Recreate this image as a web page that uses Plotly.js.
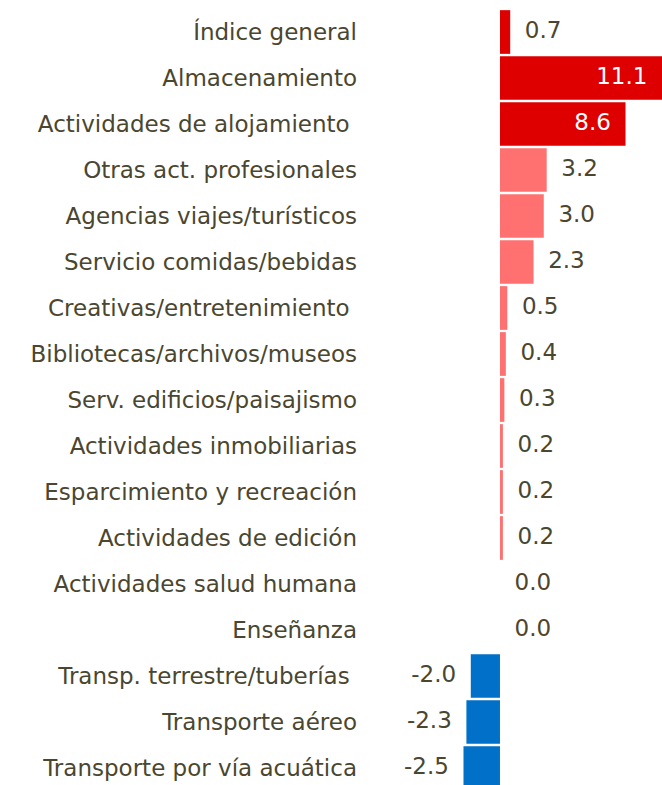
<!DOCTYPE html>
<html>
<head>
<meta charset="utf-8">
<script src="https://cdn.plot.ly/plotly-3.0.1.min.js"></script>
<style>
html,body{margin:0;padding:0;overflow:hidden;background:#fff;}
#chart{width:662px;height:791px;}
</style>
</head>
<body>
<div id="chart"></div>
<script>
const categories = [
  "Índice general",
  "Almacenamiento",
  "Actividades de alojamiento\u00a0",
  "Otras act. profesionales",
  "Agencias viajes/turísticos",
  "Servicio comidas/bebidas",
  "Creativas/entretenimiento\u00a0",
  "Bibliotecas/archivos/museos",
  "Serv. edificios/paisajismo",
  "Actividades inmobiliarias",
  "Esparcimiento y recreación",
  "Actividades de edición",
  "Actividades salud humana",
  "Enseñanza",
  "Transp. terrestre/tuberías\u00a0",
  "Transporte aéreo",
  "Transporte por vía acuática"
];
const values = [0.7, 11.1, 8.6, 3.2, 3.0, 2.3, 0.5, 0.4, 0.3, 0.2, 0.2, 0.2, 0.0, 0.0, -2.0, -2.3, -2.5];
const insideLabel = [false, true, true, false, false, false, false, false, false, false, false, false, false, false, false, false, false];

const DARK_RED = "#DE0000", PINK = "#FF7070", BLUE = "#0070C8", TEXT = "#4A4630";
const FONT = "DejaVu Sans";
const colors = values.map((v, i) => v < 0 ? BLUE : (i < 3 ? DARK_RED : PINK));

const pad = "\u00a0\u00a0";
const labelText = values.map((v, i) => {
  const s = v.toFixed(1);
  if (insideLabel[i]) return s + pad;
  if (v < 0) return s + pad;
  return pad + s;
});
const labelPos = values.map((v, i) => (insideLabel[i] || v < 0) ? "middle left" : "middle right");
const labelColor = values.map((v, i) => insideLabel[i] ? "#FFFFFF" : TEXT);

const bars = {
  type: "bar",
  orientation: "h",
  x: values,
  y: categories,
  marker: {color: colors, line: {width: 0}},
  hoverinfo: "skip"
};
const labels = {
  type: "scatter",
  mode: "text",
  x: values,
  y: categories,
  text: labelText,
  textposition: labelPos,
  textfont: {family: FONT, size: 23, color: labelColor},
  cliponaxis: false,
  hoverinfo: "skip",
  showlegend: false
};

const layout = {
  width: 662,
  height: 791,
  margin: {l: 360, r: 0, t: 9, b: 0, pad: 0},
  paper_bgcolor: "#fff",
  plot_bgcolor: "#fff",
  showlegend: false,
  bargap: 0.05,
  font: {family: FONT, color: TEXT},
  xaxis: {range: [-9.59, 11.1], visible: false, fixedrange: true},
  yaxis: {
    range: [16.5, -0.5],
    showgrid: false, zeroline: false, showline: false,
    ticks: "", ticklabelstandoff: 2,
    tickfont: {family: FONT, size: 23, color: TEXT},
    automargin: false, fixedrange: true
  }
};

Plotly.newPlot("chart", [bars, labels], layout, {staticPlot: true, displayModeBar: false});
</script>
</body>
</html>
